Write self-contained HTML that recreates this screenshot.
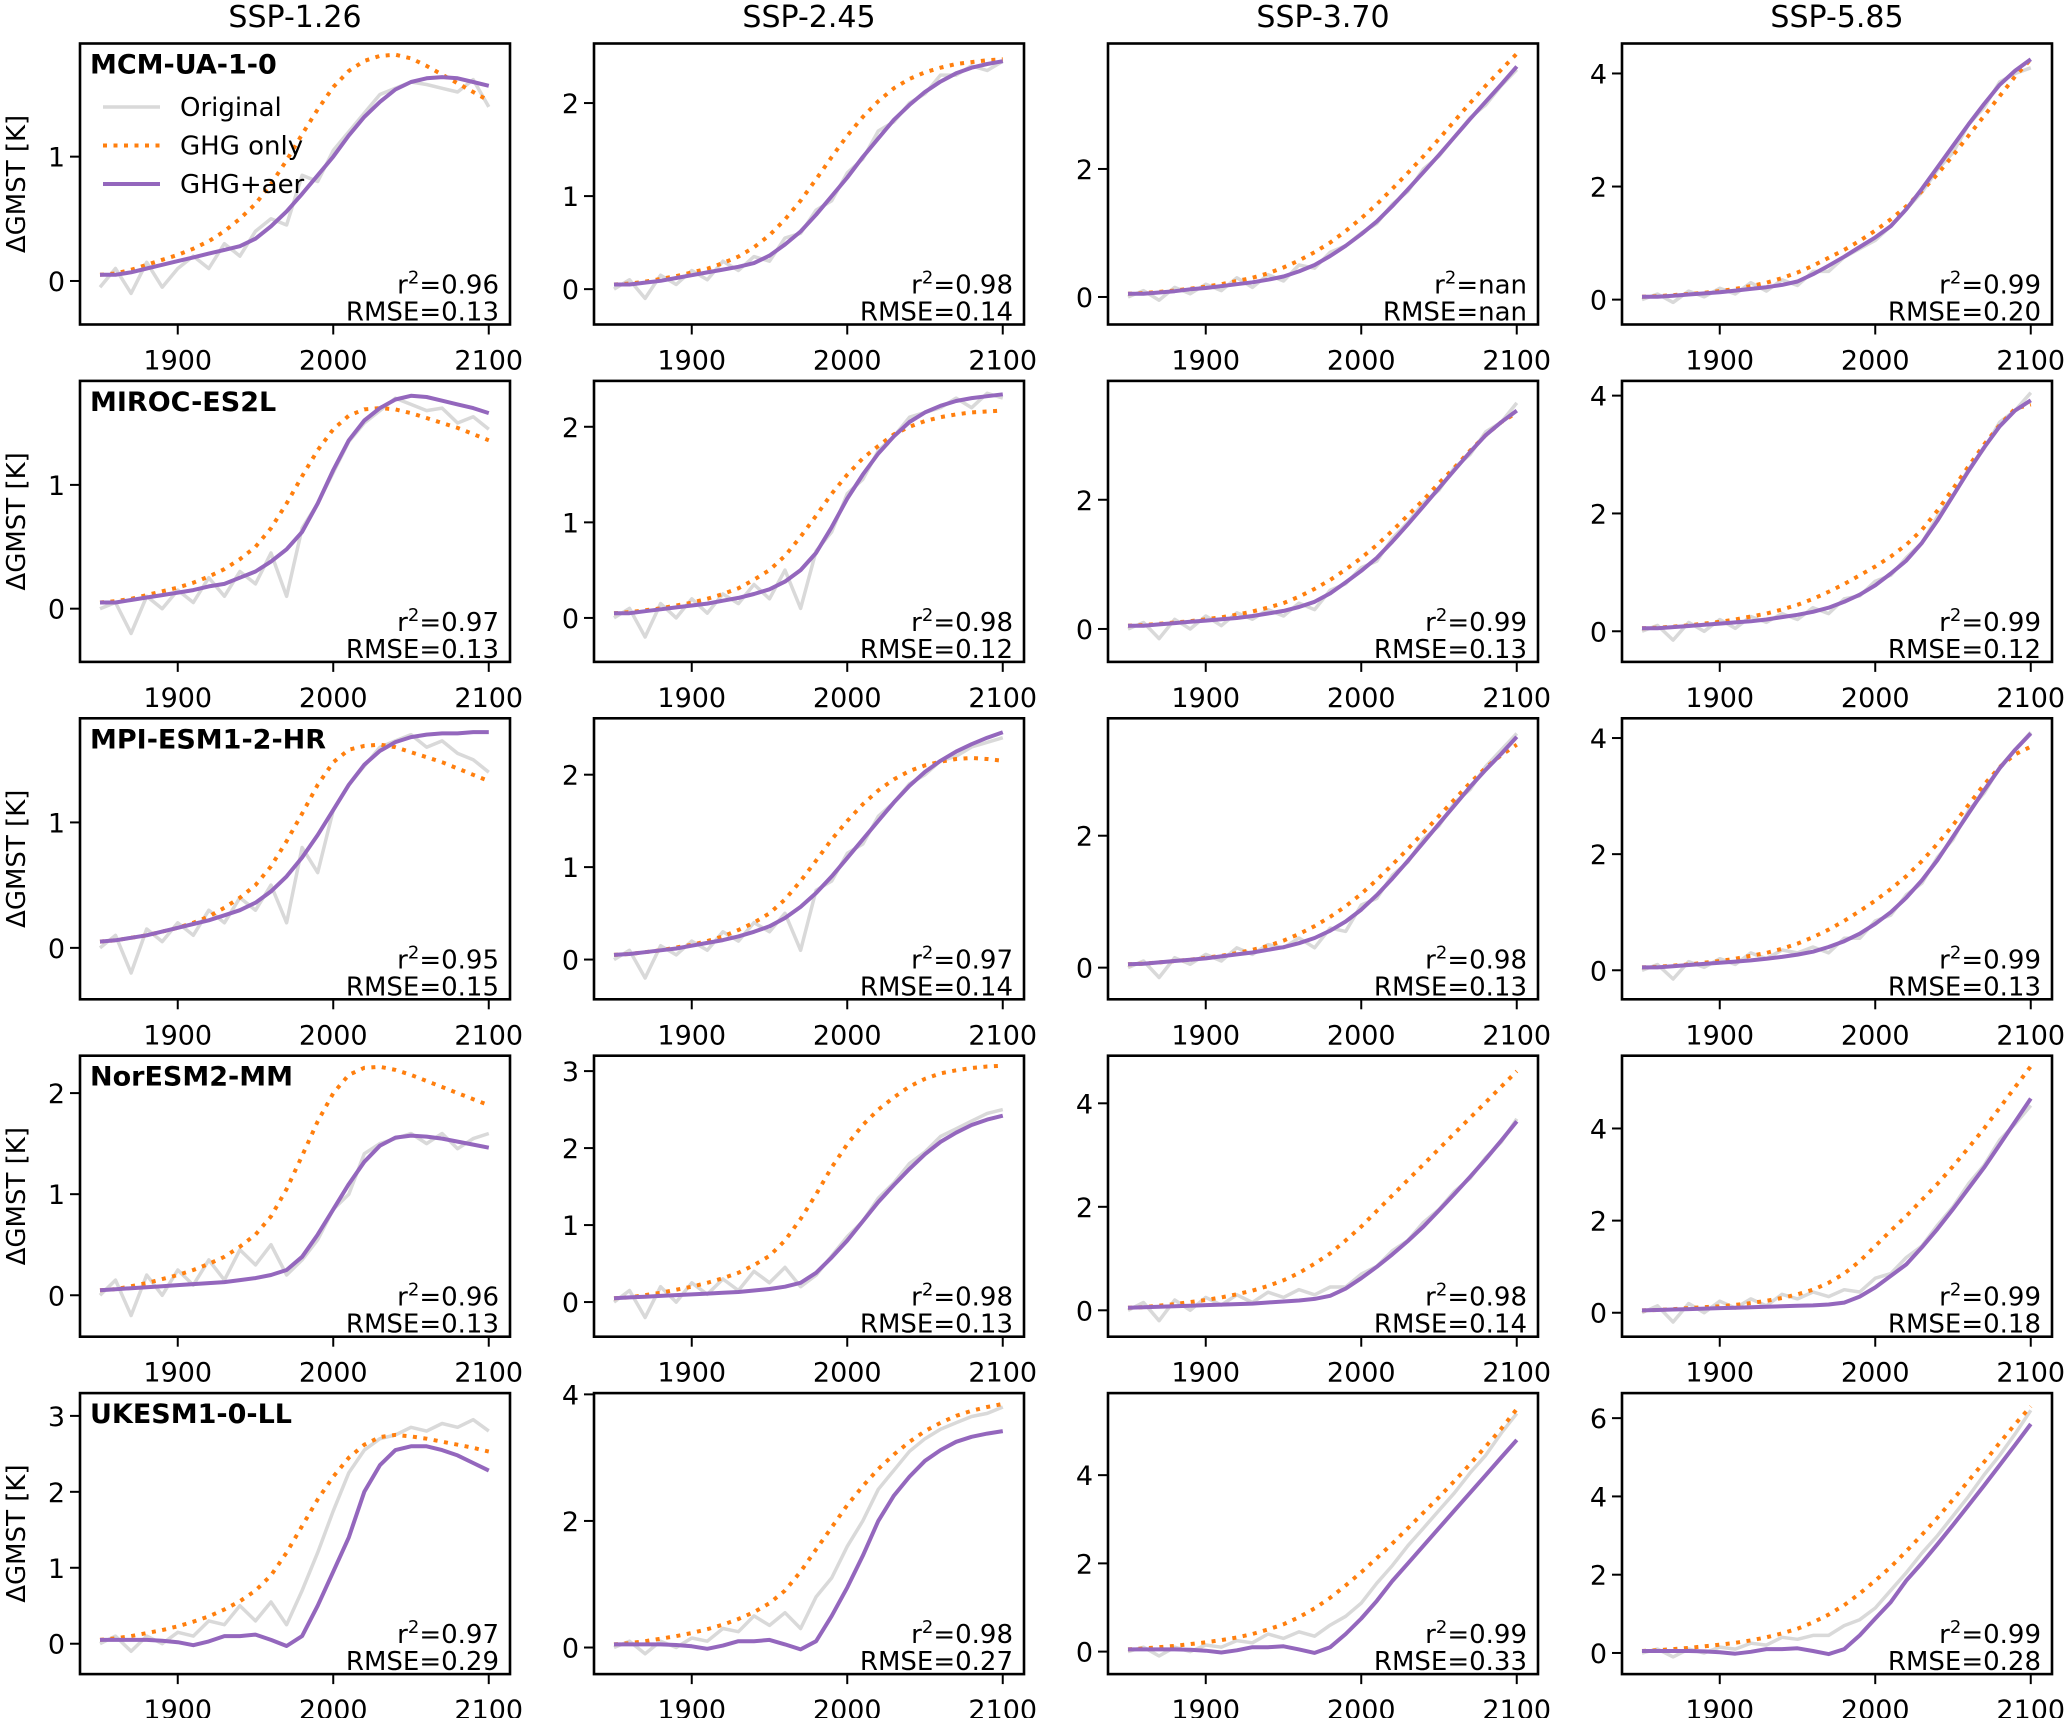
<!DOCTYPE html>
<html><head><meta charset="utf-8"><style>
html,body{margin:0;padding:0;background:#fff}
svg{display:block}
text{font-family:"DejaVu Sans","Liberation Sans",sans-serif;fill:#000}
</style></head><body>
<svg id="fig" width="2067" height="1718" viewBox="0 0 2067 1718" xmlns="http://www.w3.org/2000/svg"></svg>
<script>
const years=[1850,1860,1870,1880,1890,1900,1910,1920,1930,1940,1950,1960,1970,1980,1990,2000,2010,2020,2030,2040,2050,2060,2070,2080,2090,2100];
const scenarios=["SSP-1.26","SSP-2.45","SSP-3.70","SSP-5.85"];
const models=["MCM-UA-1-0","MIROC-ES2L","MPI-ESM1-2-HR","NorESM2-MM","UKESM1-0-LL"];
const xTicks=[1900,2000,2100];
const yRanges=[
[[-0.35,1.91],[-0.38,2.64],[-0.43,3.96],[-0.44,4.53]],
[[-0.43,1.84],[-0.46,2.48],[-0.51,3.84],[-0.52,4.25]],
[[-0.41,1.83],[-0.43,2.61],[-0.48,3.78],[-0.5,4.34]],
[[-0.41,2.37],[-0.45,3.2],[-0.51,4.92],[-0.52,5.58]],
[[-0.4,3.3],[-0.42,4.02],[-0.51,5.86],[-0.54,6.64]]];
const yTicks=[
[[0,1],[0,1,2],[0,2],[0,2,4]],
[[0,1],[0,1,2],[0,2],[0,2,4]],
[[0,1],[0,1,2],[0,2],[0,2,4]],
[[0,1,2],[0,1,2,3],[0,2,4],[0,2,4]],
[[0,1,2,3],[0,2,4],[0,2,4],[0,2,4,6]]];
const r2Labels=[["0.96","0.98","nan","0.99"],["0.97","0.98","0.99","0.99"],["0.95","0.97","0.98","0.99"],["0.96","0.98","0.98","0.99"],["0.97","0.98","0.99","0.99"]];
const rmseLabels=[["0.13","0.14","nan","0.20"],["0.13","0.12","0.13","0.12"],["0.15","0.14","0.13","0.13"],["0.13","0.13","0.14","0.18"],["0.29","0.27","0.33","0.28"]];
const ghg=[
[[.05,.06,.09,.13,.17,.21,.26,.32,.40,.50,.62,.78,.97,1.18,1.38,1.56,1.69,1.77,1.81,1.82,1.79,1.73,1.66,1.59,1.52,1.45],
 [.05,.06,.08,.11,.14,.18,.22,.28,.35,.45,.58,.75,.95,1.18,1.42,1.65,1.85,2.02,2.16,2.26,2.33,2.38,2.42,2.44,2.46,2.47],
 [.05,.06,.08,.1,.13,.16,.2,.25,.3,.37,.46,.57,.70,.85,1.03,1.23,1.45,1.69,1.94,2.2,2.47,2.75,3.03,3.3,3.55,3.8],
 [.05,.06,.08,.1,.12,.15,.19,.24,.3,.38,.48,.6,.74,.88,1.04,1.22,1.42,1.65,1.92,2.22,2.55,2.9,3.25,3.6,3.95,4.25]],
[[.05,.06,.08,.11,.14,.17,.21,.26,.32,.4,.5,.65,.85,1.07,1.28,1.45,1.56,1.61,1.62,1.61,1.58,1.54,1.5,1.46,1.41,1.36],
 [.05,.06,.08,.1,.13,.16,.2,.25,.31,.4,.5,.65,.85,1.07,1.3,1.5,1.67,1.8,1.92,2.0,2.06,2.1,2.13,2.15,2.16,2.17],
 [.05,.06,.08,.1,.12,.15,.18,.22,.27,.33,.4,.5,.62,.76,.92,1.1,1.3,1.52,1.76,2.0,2.26,2.5,2.76,3.0,3.2,3.35],
 [.05,.06,.08,.1,.13,.16,.2,.25,.3,.37,.45,.55,.67,.8,.95,1.1,1.27,1.47,1.72,2.05,2.42,2.8,3.17,3.5,3.78,3.85]],
[[.05,.06,.08,.1,.13,.16,.2,.25,.32,.4,.5,.65,.85,1.07,1.3,1.48,1.58,1.61,1.62,1.6,1.56,1.52,1.48,1.43,1.38,1.33],
 [.05,.06,.08,.1,.13,.16,.2,.25,.32,.4,.5,.65,.85,1.07,1.3,1.5,1.68,1.83,1.95,2.04,2.1,2.14,2.17,2.18,2.17,2.15],
 [.05,.06,.08,.1,.12,.15,.18,.22,.27,.33,.41,.51,.63,.77,.93,1.12,1.33,1.56,1.8,2.05,2.3,2.55,2.8,3.03,3.22,3.38],
 [.05,.06,.08,.1,.13,.16,.2,.25,.3,.37,.46,.57,.7,.85,1.02,1.2,1.4,1.62,1.88,2.18,2.5,2.85,3.2,3.5,3.72,3.85]],
[[.05,.06,.09,.12,.16,.2,.25,.31,.38,.48,.6,.78,1.05,1.38,1.72,2.0,2.18,2.25,2.26,2.23,2.18,2.12,2.06,2.0,1.94,1.88],
 [.05,.06,.09,.12,.16,.2,.25,.31,.38,.48,.6,.8,1.08,1.4,1.75,2.05,2.3,2.5,2.66,2.8,2.9,2.97,3.01,3.04,3.06,3.07],
 [.05,.06,.09,.12,.16,.2,.25,.31,.38,.47,.58,.72,.9,1.1,1.35,1.62,1.92,2.22,2.52,2.82,3.12,3.42,3.72,4.02,4.32,4.62],
 [.05,.06,.08,.1,.12,.14,.17,.21,.26,.32,.4,.5,.65,.85,1.12,1.45,1.78,2.1,2.45,2.8,3.18,3.58,4.0,4.45,4.9,5.35]],
[[.05,.07,.1,.14,.18,.23,.29,.36,.45,.56,.7,.9,1.2,1.55,1.9,2.2,2.45,2.62,2.72,2.75,2.73,2.7,2.66,2.62,2.58,2.53],
 [.05,.07,.1,.14,.18,.23,.29,.36,.45,.56,.7,.9,1.2,1.55,1.9,2.25,2.55,2.82,3.05,3.25,3.42,3.55,3.66,3.74,3.8,3.85],
 [.05,.07,.1,.13,.17,.21,.26,.32,.4,.5,.62,.78,.98,1.22,1.5,1.8,2.12,2.45,2.8,3.15,3.5,3.87,4.25,4.65,5.05,5.5],
 [.05,.07,.1,.13,.17,.21,.26,.32,.4,.5,.62,.78,.98,1.22,1.52,1.85,2.2,2.6,3.02,3.46,3.92,4.4,4.88,5.37,5.85,6.3]]];
const aer=[
[[.05,.05,.07,.10,.13,.16,.19,.22,.25,.28,.34,.44,.56,.70,.85,1.0,1.17,1.32,1.44,1.54,1.60,1.63,1.64,1.63,1.60,1.57],
 [.05,.05,.07,.09,.12,.15,.18,.21,.24,.28,.36,.48,.62,.80,1.0,1.2,1.42,1.62,1.82,1.98,2.12,2.23,2.32,2.38,2.42,2.45],
 [.05,.05,.07,.09,.12,.14,.17,.2,.23,.27,.32,.40,.50,.64,.80,.98,1.18,1.42,1.68,1.95,2.22,2.50,2.78,3.05,3.32,3.6],
 [.05,.05,.07,.09,.11,.13,.16,.19,.22,.26,.32,.45,.6,.76,.93,1.1,1.3,1.6,1.96,2.34,2.72,3.1,3.46,3.8,4.05,4.25]],
[[.05,.05,.07,.09,.11,.13,.15,.18,.2,.25,.3,.38,.48,.62,.85,1.12,1.36,1.52,1.62,1.69,1.72,1.71,1.68,1.65,1.62,1.58],
 [.05,.05,.07,.09,.11,.13,.15,.18,.21,.25,.3,.38,.5,.68,.95,1.25,1.5,1.72,1.9,2.05,2.15,2.22,2.27,2.3,2.32,2.34],
 [.05,.05,.07,.09,.11,.13,.15,.17,.2,.24,.28,.34,.42,.55,.72,.9,1.1,1.35,1.62,1.9,2.18,2.46,2.74,3.0,3.2,3.38],
 [.05,.05,.07,.09,.11,.13,.15,.17,.2,.24,.28,.33,.4,.5,.62,.78,.98,1.2,1.5,1.88,2.3,2.72,3.12,3.48,3.75,3.92]],
[[.05,.06,.08,.1,.13,.16,.19,.22,.26,.3,.36,.45,.57,.72,.9,1.1,1.3,1.46,1.57,1.64,1.68,1.7,1.71,1.71,1.72,1.72],
 [.05,.06,.08,.1,.12,.15,.18,.21,.25,.3,.36,.45,.57,.72,.9,1.1,1.3,1.5,1.7,1.88,2.03,2.15,2.25,2.33,2.4,2.46],
 [.05,.06,.08,.1,.12,.14,.17,.2,.23,.27,.31,.37,.45,.56,.7,.88,1.1,1.35,1.62,1.9,2.18,2.46,2.74,3.0,3.24,3.5],
 [.05,.05,.07,.09,.11,.13,.15,.17,.2,.23,.27,.32,.4,.5,.63,.8,1.0,1.25,1.55,1.9,2.3,2.7,3.1,3.48,3.8,4.08]],
[[.05,.06,.07,.08,.09,.1,.11,.12,.13,.15,.17,.2,.25,.38,.6,.85,1.1,1.32,1.48,1.56,1.58,1.57,1.55,1.52,1.49,1.46],
 [.05,.06,.07,.08,.09,.1,.11,.12,.13,.15,.17,.2,.25,.38,.58,.8,1.05,1.3,1.52,1.73,1.92,2.08,2.2,2.3,2.37,2.42],
 [.05,.06,.07,.08,.09,.1,.11,.12,.13,.15,.17,.19,.22,.28,.42,.62,.84,1.08,1.34,1.62,1.93,2.25,2.58,2.92,3.28,3.65],
 [.05,.06,.07,.08,.09,.1,.11,.12,.13,.14,.15,.16,.18,.22,.35,.55,.8,1.05,1.42,1.82,2.25,2.7,3.15,3.65,4.15,4.65]],
[[.05,.05,.05,.05,.04,.02,-.02,.03,.1,.1,.12,.05,-.03,.1,.5,.95,1.4,2.0,2.35,2.55,2.6,2.6,2.55,2.48,2.38,2.28],
 [.05,.05,.05,.05,.04,.02,-.02,.03,.1,.1,.12,.05,-.03,.1,.5,.95,1.45,2.0,2.4,2.7,2.95,3.12,3.25,3.33,3.38,3.42],
 [.05,.05,.05,.05,.04,.02,-.02,.03,.1,.1,.12,.05,-.03,.1,.4,.75,1.15,1.6,2.0,2.4,2.8,3.2,3.6,4.0,4.4,4.8],
 [.05,.05,.05,.05,.04,.02,-.02,.03,.1,.1,.12,.05,-.03,.1,.45,.88,1.3,1.85,2.3,2.78,3.27,3.77,4.28,4.8,5.32,5.85]]];
const orig=[
[[-.05,.1,-.1,.15,-.05,.1,.2,.1,.3,.2,.4,.5,.45,.85,.8,1.05,1.2,1.35,1.5,1.55,1.6,1.58,1.55,1.52,1.62,1.40],
 [0,.1,-.1,.15,.05,.2,.1,.3,.2,.35,.3,.55,.6,.85,.95,1.25,1.4,1.7,1.8,2.0,2.1,2.3,2.3,2.4,2.35,2.45],
 [0,.1,-.05,.15,.05,.2,.1,.3,.15,.35,.25,.5,.45,.7,.8,1.0,1.15,1.45,1.65,2.0,2.2,2.5,2.8,3.0,3.3,3.55],
 [0,.1,-.05,.15,.05,.2,.1,.3,.15,.35,.25,.5,.5,.75,.9,1.05,1.3,1.6,1.9,2.3,2.6,3.1,3.4,3.85,4.0,4.1]],
[[0,.05,-.2,.1,0,.15,.05,.25,.1,.3,.2,.45,.1,.65,.85,1.1,1.35,1.5,1.6,1.7,1.65,1.6,1.62,1.5,1.55,1.45],
 [0,.1,-.2,.15,0,.2,.05,.25,.15,.35,.2,.5,.1,.7,.9,1.3,1.45,1.75,1.9,2.1,2.15,2.2,2.3,2.2,2.35,2.3],
 [0,.1,-.15,.15,0,.2,.05,.25,.15,.3,.2,.4,.3,.6,.7,.95,1.05,1.4,1.65,1.95,2.15,2.5,2.7,3.05,3.2,3.5],
 [0,.1,-.15,.15,0,.2,.05,.25,.15,.3,.2,.4,.3,.55,.6,.85,.95,1.25,1.5,1.95,2.3,2.75,3.1,3.55,3.75,4.05]],
[[0,.1,-.2,.15,.05,.2,.1,.3,.2,.4,.3,.5,.2,.8,.6,1.1,1.3,1.45,1.6,1.65,1.7,1.6,1.65,1.55,1.5,1.4],
 [0,.1,-.2,.15,.05,.2,.1,.3,.2,.4,.3,.5,.1,.75,.85,1.15,1.25,1.55,1.7,1.9,2.0,2.15,2.2,2.3,2.35,2.4],
 [0,.1,-.15,.15,.05,.2,.1,.3,.2,.35,.3,.45,.3,.6,.55,.95,1.05,1.4,1.6,1.95,2.15,2.5,2.7,3.05,3.3,3.55],
 [0,.1,-.15,.15,.05,.2,.1,.3,.2,.35,.3,.4,.3,.55,.55,.85,.95,1.3,1.5,1.95,2.25,2.75,3.05,3.5,3.8,4.1]],
[[0,.15,-.2,.2,0,.25,.1,.35,.15,.45,.3,.5,.2,.35,.55,.85,1.0,1.4,1.5,1.55,1.6,1.5,1.6,1.45,1.55,1.6],
 [0,.15,-.2,.2,0,.25,.1,.3,.15,.4,.25,.45,.2,.35,.6,.85,1.05,1.35,1.55,1.8,1.95,2.15,2.25,2.35,2.45,2.5],
 [0,.15,-.2,.2,0,.25,.1,.3,.15,.35,.25,.4,.3,.45,.45,.7,.85,1.15,1.35,1.7,1.95,2.3,2.55,2.95,3.25,3.7],
 [0,.15,-.2,.2,0,.25,.1,.3,.15,.4,.3,.45,.35,.5,.45,.75,.85,1.2,1.45,1.9,2.3,2.8,3.2,3.75,4.1,4.5]],
[[0,.1,-.1,.1,0,.15,.1,.3,.25,.5,.3,.55,.25,.7,1.2,1.75,2.25,2.55,2.7,2.75,2.85,2.8,2.9,2.85,2.95,2.8],
 [0,.1,-.1,.1,0,.15,.1,.3,.25,.5,.35,.55,.3,.8,1.1,1.6,2.0,2.5,2.8,3.1,3.3,3.45,3.55,3.65,3.7,3.8],
 [0,.1,-.1,.1,0,.15,.1,.25,.2,.4,.3,.45,.35,.6,.8,1.1,1.55,1.95,2.4,2.8,3.2,3.6,4.05,4.45,4.95,5.4],
 [0,.1,-.1,.1,0,.15,.1,.25,.2,.4,.35,.45,.45,.7,.85,1.15,1.6,2.05,2.55,3.0,3.5,4.0,4.55,5.05,5.6,6.2]]];

const NS="http://www.w3.org/2000/svg";
const svg=document.getElementById('fig');
function mk(tag,attrs,parent){const e=document.createElementNS(NS,tag);for(const k in attrs)e.setAttribute(k,attrs[k]);(parent||svg).appendChild(e);return e;}
const PW=430,PH=281;
function panelLeft(c){return 80+c*514;}
function panelTop(r){return 43.5+r*337.4;}

scenarios.forEach((s,c)=>{
  const t=mk('text',{x:panelLeft(c)+PW/2,y:27,'text-anchor':'middle','font-size':30});
  
  
  t.textContent=s;
});

for(let r=0;r<5;r++){
  const yl=mk('text',{transform:`translate(25,${panelTop(r)+PH/2}) rotate(-90)`,'text-anchor':'middle','font-size':26});
  
  
  yl.textContent='ΔGMST [K]';
  for(let c=0;c<4;c++){
    const L=panelLeft(c),T=panelTop(r);
    const g=mk('g',{});
    
    
    const [y0,y1]=yRanges[r][c];
    const xs=v=>L+20+(v-1850)*1.555;
    const ys=v=>T+PH-(v-y0)/(y1-y0)*PH;
    const clipId='clip'+r+c;
    const cp=mk('clipPath',{id:clipId},g);mk('rect',{x:L,y:T,width:PW,height:PH},cp);
    const path=arr=>arr.map((v,i)=>(i?'L':'M')+xs(years[i]).toFixed(1)+','+ys(v).toFixed(1)).join('');
    const po=mk('path',{d:path(orig[r][c]),fill:'none',stroke:'#d9d9d9','stroke-width':3.5,'clip-path':`url(#${clipId})`,'stroke-linejoin':'round'},g);
    
    
    const pg=mk('path',{d:path(ghg[r][c]),fill:'none',stroke:'#ff7f0e','stroke-width':4,'stroke-dasharray':'4,6.5','clip-path':`url(#${clipId})`},g);
    
    
    const pa=mk('path',{d:path(aer[r][c]),fill:'none',stroke:'#9467bd','stroke-width':4,'clip-path':`url(#${clipId})`,'stroke-linejoin':'round'},g);
    
    
    const fr=mk('rect',{x:L,y:T,width:PW,height:PH,fill:'none',stroke:'#000','stroke-width':2.6},g);
    
    
    xTicks.forEach(v=>{
      mk('line',{x1:xs(v),x2:xs(v),y1:T+PH,y2:T+PH+10,stroke:'#000','stroke-width':2},g);
      const tl=mk('text',{x:xs(v),y:T+PH+45,'text-anchor':'middle','font-size':27},g);
      
      
      tl.textContent=v;
    });
    yTicks[r][c].forEach(v=>{
      mk('line',{x1:L-10,x2:L,y1:ys(v),y2:ys(v),stroke:'#000','stroke-width':2},g);
      const tl=mk('text',{x:L-15,y:ys(v)+10,'text-anchor':'end','font-size':27},g);
      
      
      tl.textContent=v;
    });
    const a1=mk('text',{x:L+PW-11,y:T+PH-31,'text-anchor':'end','font-size':26},g);
    
    
    a1.innerHTML='r<tspan dy="-10" font-size="18">2</tspan><tspan dy="10">='+r2Labels[r][c]+'</tspan>';
    const a2=mk('text',{x:L+PW-11,y:T+PH-4,'text-anchor':'end','font-size':26},g);
    
    
    a2.textContent='RMSE='+rmseLabels[r][c];
    if(c===0){
      const mn=mk('text',{x:L+10,y:T+30,'font-size':27,'font-weight':'bold'},g);
      
      
      mn.textContent=models[r];
    }
  }
}
const leg=mk('g',{});


const legItems=[["Original","#d9d9d9",null],["GHG only","#ff7f0e","4,6.5"],["GHG+aer","#9467bd",null]];
legItems.forEach((it,i)=>{
  const y=107+i*38.5;
  const ln=mk('line',{x1:103,x2:160,y1:y,y2:y,stroke:it[1],'stroke-width':it[0]==="Original"?3.5:4},leg);
  if(it[2])ln.setAttribute('stroke-dasharray',it[2]);
  const t=mk('text',{x:180,y:y+9,'font-size':26},leg);
  
  
  t.textContent=it[0];
});
</script>
</body></html>
